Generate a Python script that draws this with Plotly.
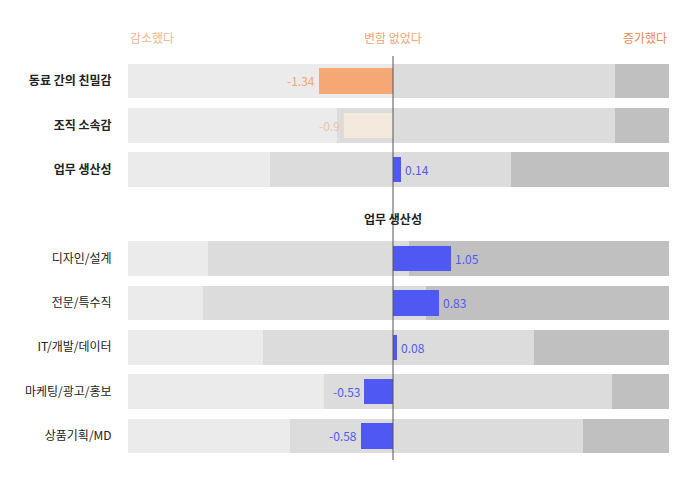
import plotly.graph_objects as go

# rows (top group, spacer, job group)
rows = ["동료 간의 친밀감", "조직 소속감", "업무 생산성", " ",
        "디자인/설계", "전문/특수직", "IT/개발/데이터", "마케팅/광고/홍보", "상품기획/MD"]
row_labels = ["<b>동료 간의 친밀감</b>", "<b>조직 소속감</b>", "<b>업무 생산성</b>", "",
              "디자인/설계", "전문/특수직", "IT/개발/데이터", "마케팅/광고/홍보", "상품기획/MD"]

# share of answers (%): decreased / no change / increased
decreased = [49.0, 38.6, 26.2, None, 14.8, 13.9, 25.0, 36.2, 29.9]
no_change = [41.0, 51.4, 44.6, None, 37.2, 41.2, 50.0, 53.3, 54.2]
increased = [10.0, 10.0, 29.2, None, 48.0, 44.9, 25.0, 10.5, 15.9]

# average change score
scores = [-1.34, -0.9, 0.14, None, 1.05, 0.83, 0.08, -0.53, -0.58]
bar_colors = ["#F5A873", "#F3E9DD", "#5058F4", "rgba(0,0,0,0)",
              "#5058F4", "#5058F4", "#5058F4", "#5058F4", "#5058F4"]
text_colors = ["#EFA577", "#EBC4A6", "#5058F4", "#5058F4",
               "#5058F4", "#5058F4", "#5058F4", "#5058F4", "#5058F4"]

FONT = "Noto Sans CJK KR"

fig = go.Figure()
for vals, col in [(decreased, "#EBEBEB"), (no_change, "#DCDCDC"), (increased, "#C0C0C0")]:
    fig.add_trace(go.Bar(
        y=rows, x=vals, orientation="h", marker_color=col,
        marker_line_width=0, width=0.78, hoverinfo="skip", showlegend=False))

fig.add_trace(go.Bar(
    y=rows, x=scores, orientation="h", xaxis="x2",
    marker_color=bar_colors, marker_line_width=0, width=0.57,
    showlegend=False))

# value labels next to bar ends
for row, v, c in zip(rows, scores, text_colors):
    if v is None:
        continue
    fig.add_annotation(text=str(v), xref="x2", yref="y", x=v, y=row,
                       xanchor="left" if v > 0 else "right",
                       xshift=2 if v > 0 else -2, showarrow=False,
                       font=dict(family=FONT, size=12, color=c))

fig.add_shape(type="line", xref="x2", yref="paper", x0=0, x1=0, y0=0, y1=1,
              line=dict(color="#555555", width=1))

head_y = 1.045
fig.add_annotation(text="감소했다", xref="paper", yref="paper", x=0, y=head_y,
                   xanchor="left", yanchor="middle", showarrow=False,
                   font=dict(family=FONT, size=12, color="#F2B48C"))
fig.add_annotation(text="변함 없었다", xref="x2", yref="paper", x=0, y=head_y,
                   xanchor="center", yanchor="middle", showarrow=False,
                   font=dict(family=FONT, size=12, color="#EFA677"))
fig.add_annotation(text="증가했다", xref="paper", yref="paper", x=1, y=head_y,
                   xanchor="right", yanchor="middle", showarrow=False,
                   font=dict(family=FONT, size=12, color="#EC874C"))
fig.add_annotation(text="<b>업무 생산성</b>", xref="x2", yref="y", x=0, y=" ",
                   yshift=-4, xanchor="center", showarrow=False,
                   font=dict(family=FONT, size=12, color="#222222"))

# page body adds 8px, so margins are shifted to compensate
fig.update_layout(
    width=700, height=484,
    margin=dict(l=120, r=39, t=48, b=32),
    paper_bgcolor="white", plot_bgcolor="white",
    barmode="stack", bargap=0,
    font=dict(family=FONT, size=12, color="#222222"),
    xaxis=dict(range=[0, 100], visible=False, fixedrange=True),
    xaxis2=dict(range=[-4.82, 5.02], overlaying="x", visible=False),
    yaxis=dict(
        type="category", categoryorder="array", categoryarray=rows,
        range=[8.541, -0.563],
        tickmode="array", tickvals=rows, ticktext=row_labels,
        ticks="outside", ticklen=13, tickcolor="rgba(0,0,0,0)",
        showgrid=False, zeroline=False, showline=False,
        tickfont=dict(family=FONT, size=12, color="#222222"),
    ),
)

fig.write_html("out.html")
